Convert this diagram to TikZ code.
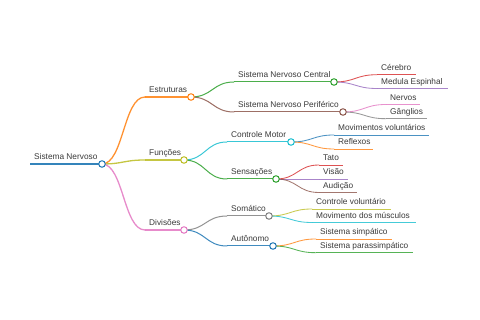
\documentclass[tikz,border=0pt]{standalone}
\usepackage{fontspec}
\setmainfont{Liberation Sans}
\usepackage{tikz}
\usetikzlibrary{calc}
\definecolor{cBlue}  {HTML}{1F77B4}
\definecolor{cOrange}{HTML}{FF7F0E}
\definecolor{cGreen} {HTML}{2CA02C}
\definecolor{cRed}   {HTML}{D62728}
\definecolor{cPurple}{HTML}{9467BD}
\definecolor{cBrown} {HTML}{8C564B}
\definecolor{cPink}  {HTML}{E377C2}
\definecolor{cGray}  {HTML}{7F7F7F}
\definecolor{cOlive} {HTML}{BCBD22}
\definecolor{cCyan}  {HTML}{17BECF}
\definecolor{txt}    {HTML}{3A3A3A}

\begin{document}
\begin{tikzpicture}[x=1pt,y=-1pt,
  lbl/.style={anchor=base west,inner sep=0pt,text=txt,
              font=\fontsize{8.3}{10}\selectfont},
  dot/.style={circle,draw,fill=white,inner sep=0pt,
              minimum size=6.5pt,line width=1pt},
  w0/.style={line width=1.8pt,draw opacity=.9},
  w1/.style={line width=1.3pt,draw opacity=.85},
  w2/.style={line width=1pt,draw opacity=.85},
  w3/.style={line width=.85pt,draw opacity=.8},
  link/.style={line cap=round}
]
\fill[white] (0,0) rectangle (480,320);
\useasboundingbox (0,0) rectangle (480,320);

% root
\node[lbl] (root-t) at (34,160) {Sistema Nervoso};
\draw[w0,cBlue] (30,164) -- (102,164) coordinate (root);

% level 1
\node[lbl] (estr-t) at (149,93)  {Estruturas};
\node[lbl] (func-t) at (149,156) {Funções};
\node[lbl] (divi-t) at (149,226) {Divisões};
\draw[w1,cOrange] (145,97)  coordinate (estr-s) -- (191,97)  coordinate (estr);
\draw[w1,cOlive]  (145,160) coordinate (func-s) -- (184,160) coordinate (func);
\draw[w1,cPink]   (145,230) coordinate (divi-s) -- (184,230) coordinate (divi);
\draw[w1,link,cOrange] (root) .. controls +(21.5,0) and +(-21.5,0) .. (estr-s);
\draw[w1,link,cOlive]  (root) .. controls +(21.5,0) and +(-21.5,0) .. (func-s);
\draw[w1,link,cPink]   (root) .. controls +(21.5,0) and +(-21.5,0) .. (divi-s);

% level 2
\node[lbl] (snc-t)  at (238,78)  {Sistema Nervoso Central};
\node[lbl] (snp-t)  at (238,108) {Sistema Nervoso Periférico};
\node[lbl] (cmot-t) at (231,138) {Controle Motor};
\node[lbl] (sens-t) at (231,175) {Sensações};
\node[lbl] (soma-t) at (231,212) {Somático};
\node[lbl] (auto-t) at (231,242) {Autônomo};
\draw[w2,cGreen] (234,82)  coordinate (snc-s)  -- (334,82)  coordinate (snc);
\draw[w2,cBrown] (234,112) coordinate (snp-s)  -- (343,112) coordinate (snp);
\draw[w2,cCyan]  (227,142) coordinate (cmot-s) -- (291,142) coordinate (cmot);
\draw[w2,cGreen] (227,179) coordinate (sens-s) -- (276,179) coordinate (sens);
\draw[w2,cGray]  (227,216) coordinate (soma-s) -- (269,216) coordinate (soma);
\draw[w2,cBlue]  (227,246) coordinate (auto-s) -- (273,246) coordinate (auto);
\draw[w2,link,cGreen] (estr) .. controls +(21.5,0) and +(-21.5,0) .. (snc-s);
\draw[w2,link,cBrown] (estr) .. controls +(21.5,0) and +(-21.5,0) .. (snp-s);
\draw[w2,link,cCyan]  (func) .. controls +(21.5,0) and +(-21.5,0) .. (cmot-s);
\draw[w2,link,cGreen] (func) .. controls +(21.5,0) and +(-21.5,0) .. (sens-s);
\draw[w2,link,cGray]  (divi) .. controls +(21.5,0) and +(-21.5,0) .. (soma-s);
\draw[w2,link,cBlue]  (divi) .. controls +(21.5,0) and +(-21.5,0) .. (auto-s);

% level 3
\node[lbl] (cere-t) at (381,70.7)  {Cérebro};
\node[lbl] (medu-t) at (381,84.5)  {Medula Espinhal};
\node[lbl] (nerv-t) at (390,100.5) {Nervos};
\node[lbl] (gang-t) at (390,114.7) {Gânglios};
\node[lbl] (movv-t) at (338,131)   {Movimentos voluntários};
\node[lbl] (refl-t) at (338,145)   {Reflexos};
\node[lbl] (tato-t) at (323,161)   {Tato};
\node[lbl] (visa-t) at (323,175)   {Visão};
\node[lbl] (audi-t) at (323,188.5) {Audição};
\node[lbl] (ctrv-t) at (316,205)   {Controle voluntário};
\node[lbl] (movm-t) at (316,218.5) {Movimento dos músculos};
\node[lbl] (simp-t) at (320,235)   {Sistema simpático};
\node[lbl] (para-t) at (320,248.7) {Sistema parassimpático};
\draw[w3,cRed]    (377,74.7)  coordinate (cere-s) -- (415.7,74.7);
\draw[w3,cPurple] (377,88.5)  coordinate (medu-s) -- (447.7,88.5);
\draw[w3,cPink]   (386,104.5) coordinate (nerv-s) -- (420,104.5);
\draw[w3,cGray]   (386,118.7) coordinate (gang-s) -- (427,118.7);
\draw[w3,cBlue]   (334,135)   coordinate (movv-s) -- (429,135);
\draw[w3,cOrange] (334,149)   coordinate (refl-s) -- (373,149);
\draw[w3,cRed]    (319,165)   coordinate (tato-s) -- (343,165);
\draw[w3,cPurple] (319,179)   coordinate (visa-s) -- (348,179);
\draw[w3,cBrown]  (319,192.5) coordinate (audi-s) -- (357,192.5);
\draw[w3,cOlive]  (312,209)   coordinate (ctrv-s) -- (391,209);
\draw[w3,cCyan]   (312,222.5) coordinate (movm-s) -- (416,222.5);
\draw[w3,cOrange] (316,239)   coordinate (simp-s) -- (392,239);
\draw[w3,cGreen]  (316,252.7) coordinate (para-s) -- (413,252.7);
\draw[w3,link,cRed]    (snc)  .. controls +(21.5,0) and +(-21.5,0) .. (cere-s);
\draw[w3,link,cPurple] (snc)  .. controls +(21.5,0) and +(-21.5,0) .. (medu-s);
\draw[w3,link,cPink]   (snp)  .. controls +(21.5,0) and +(-21.5,0) .. (nerv-s);
\draw[w3,link,cGray]   (snp)  .. controls +(21.5,0) and +(-21.5,0) .. (gang-s);
\draw[w3,link,cBlue]   (cmot) .. controls +(21.5,0) and +(-21.5,0) .. (movv-s);
\draw[w3,link,cOrange] (cmot) .. controls +(21.5,0) and +(-21.5,0) .. (refl-s);
\draw[w3,link,cRed]    (sens) .. controls +(21.5,0) and +(-21.5,0) .. (tato-s);
\draw[w3,link,cPurple] (sens) .. controls +(21.5,0) and +(-21.5,0) .. (visa-s);
\draw[w3,link,cBrown]  (sens) .. controls +(21.5,0) and +(-21.5,0) .. (audi-s);
\draw[w3,link,cOlive]  (soma) .. controls +(21.5,0) and +(-21.5,0) .. (ctrv-s);
\draw[w3,link,cCyan]   (soma) .. controls +(21.5,0) and +(-21.5,0) .. (movm-s);
\draw[w3,link,cOrange] (auto) .. controls +(21.5,0) and +(-21.5,0) .. (simp-s);
\draw[w3,link,cGreen]  (auto) .. controls +(21.5,0) and +(-21.5,0) .. (para-s);

% circles on top
\node[dot,draw=cBlue]   at (root) {};
\node[dot,draw=cOrange] at (estr) {};
\node[dot,draw=cOlive]  at (func) {};
\node[dot,draw=cPink]   at (divi) {};
\node[dot,draw=cGreen]  at (snc)  {};
\node[dot,draw=cBrown]  at (snp)  {};
\node[dot,draw=cCyan]   at (cmot) {};
\node[dot,draw=cGreen]  at (sens) {};
\node[dot,draw=cGray]   at (soma) {};
\node[dot,draw=cBlue]   at (auto) {};
\end{tikzpicture}
\end{document}
